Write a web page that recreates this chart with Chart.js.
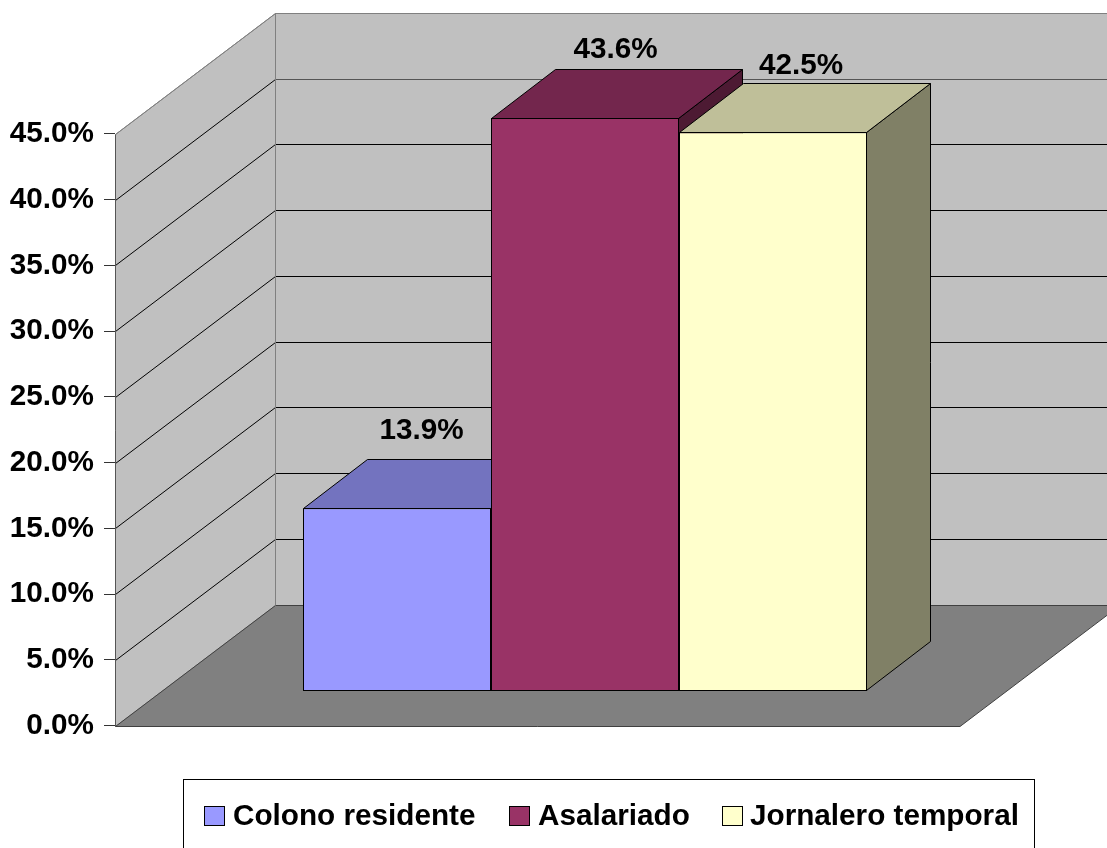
<!DOCTYPE html>
<html>
<head>
<meta charset="utf-8">
<style>html,body{margin:0;padding:0;background:#fff}canvas{display:block}</style>
<script src="https://cdn.jsdelivr.net/npm/chart.js@4"></script>
</head>
<body>
<canvas id="c" width="1107" height="848"></canvas>
<script>
const categories = [''];
const seriesNames = ['Colono residente', 'Asalariado', 'Jornalero temporal'];
const colonoValues = [13.9];
const asalariadoValues = [43.6];
const jornaleroValues = [42.5];
const tickValues = [0, 5, 10, 15, 20, 25, 30, 35, 40, 45];

const seriesFill = ['#9999FF', '#993366', '#FFFFCC'];
const seriesTop = ['#7373BF', '#73264D', '#BFBF99'];
const seriesSide = ['#4D4D80', '#4D1A33', '#808066'];

const FONT_SIZE = 29.7;
const FONT = 'bold ' + FONT_SIZE + 'px "Liberation Sans", Arial, sans-serif';
const WALL = { dx: 160, dy: -121 };
const BAR = { dx: 64, dy: -49 };
const labelOffset = [{ x: 24.5, y: 69 }, { x: 30.5, y: 60 }, { x: 28, y: 58 }];
const FLOOR_RIGHT = 960;
const AXIS_MAX = 54.2;
const BAR_SHIFT = 2.62;

function poly(ctx, pts, fill, stroke) {
  ctx.beginPath();
  pts.forEach((p, i) => i ? ctx.lineTo(p[0], p[1]) : ctx.moveTo(p[0], p[1]));
  ctx.closePath();
  if (fill) { ctx.fillStyle = fill; ctx.fill(); }
  if (stroke) { ctx.strokeStyle = stroke; ctx.lineWidth = 1; ctx.stroke(); }
}
function line(ctx, x1, y1, x2, y2, color) {
  ctx.beginPath(); ctx.moveTo(x1, y1); ctx.lineTo(x2, y2);
  ctx.strokeStyle = color; ctx.lineWidth = 1; ctx.stroke();
}

const scene3d = {
  id: 'scene3d',
  beforeDatasetsDraw(chart) {
    const { ctx, scales: { y } } = chart;
    const L = 115.5, y0 = Math.round(y.getPixelForValue(0)) + 0.5, yT = Math.round(y.getPixelForValue(45)) + 0.5;
    const bL = L + WALL.dx, by0 = y0 + WALL.dy, byT = yT + WALL.dy;
    const bR = FLOOR_RIGHT + WALL.dx;
    ctx.save();
    // back wall
    poly(ctx, [[bL, byT], [bR, byT], [bR, by0], [bL, by0]], '#C0C0C0', '#808080');
    // side wall
    poly(ctx, [[L, yT], [bL, byT], [bL, by0], [L, y0]], '#C0C0C0', '#808080');
    // floor
    poly(ctx, [[L, y0], [FLOOR_RIGHT, y0], [bR, by0], [bL, by0]], '#808080', '#404040');
    // grid lines
    tickValues.forEach(v => {
      if (v === 0) return;
      const py = Math.round(y.getPixelForValue(v)) + 0.5;
      if (v < 45) line(ctx, L, py, bL, py + WALL.dy, '#000');
      line(ctx, bL, py + WALL.dy, bR, py + WALL.dy, v === 45 ? '#808080' : (v === 40 ? '#555' : '#000'));
    });
    line(ctx, bL, byT, bL, by0, '#808080');
    line(ctx, L, yT, L, y0, '#555');
    line(ctx, L, yT, bL, byT, '#808080');
    // bar tops and sides
    chart.data.datasets.forEach((d, i) => {
      const b = chart.getDatasetMeta(i).data[0];
      const x1 = Math.round(b.x - b.width / 2) + 0.5, x2 = Math.round(b.x + b.width / 2) - 0.5;
      const t = Math.round(b.y) + 0.5, f = Math.round(b.base) - 0.5;
      poly(ctx, [[x2, t], [x2 + BAR.dx, t + BAR.dy], [x2 + BAR.dx, f + BAR.dy], [x2, f]], seriesSide[i], '#000');
      poly(ctx, [[x1, t], [x2, t], [x2 + BAR.dx, t + BAR.dy], [x1 + BAR.dx, t + BAR.dy]], seriesTop[i], '#000');
    });
    ctx.restore();
  },
  afterDatasetsDraw(chart) {
    const { ctx } = chart;
    ctx.save();
    ctx.font = FONT;
    ctx.fillStyle = '#000';
    ctx.textBaseline = 'alphabetic';
    // value labels
    ctx.textAlign = 'center';
    chart.data.datasets.forEach((d, i) => {
      const b = chart.getDatasetMeta(i).data[0];
      ctx.fillText(d.data[0].toFixed(1) + '%', b.x + labelOffset[i].x, b.y - labelOffset[i].y);
    });
    // legend
    const box = { l: 183.5, t: 779.5, r: 1034.5, b: 860 };
    ctx.fillStyle = '#fff';
    ctx.fillRect(box.l, box.t, box.r - box.l, box.b - box.t);
    ctx.strokeStyle = '#000';
    ctx.lineWidth = 1;
    ctx.strokeRect(box.l, box.t, box.r - box.l, box.b - box.t);
    const swatchX = [204.5, 509.5, 722.5], textX = [233, 538, 750];
    ctx.textAlign = 'left';
    chart.data.datasets.forEach((d, i) => {
      ctx.fillStyle = d.backgroundColor;
      ctx.fillRect(swatchX[i], 806.5, 20, 19);
      ctx.strokeStyle = '#000';
      ctx.strokeRect(swatchX[i], 806.5, 20, 19);
      ctx.fillStyle = '#000';
      ctx.fillText(d.label, textX[i], 825);
    });
    ctx.restore();
  }
};

const values = [colonoValues, asalariadoValues, jornaleroValues];
new Chart(document.getElementById('c'), {
  type: 'bar',
  data: {
    labels: categories,
    datasets: seriesNames.map((name, i) => ({
      label: name,
      data: values[i],
      yAxisID: 'bars',
      backgroundColor: seriesFill[i],
      borderColor: '#000',
      borderWidth: 1,
      borderSkipped: false,
      categoryPercentage: 0.6,
      barPercentage: 1
    }))
  },
  options: {
    responsive: false,
    animation: false,
    layout: { padding: { left: 0, right: 52, top: 13, bottom: 122.5 } },
    plugins: { legend: { display: false }, tooltip: { enabled: false }, title: { display: false } },
    scales: {
      x: { display: false },
      y: {
        position: 'left',
        min: 0,
        max: AXIS_MAX,
        afterBuildTicks(s) { s.ticks = tickValues.map(v => ({ value: v })); },
        afterFit(s) { s.width = 115; s.paddingTop = 0; s.paddingBottom = 0; },
        border: { display: false },
        grid: { drawOnChartArea: false, drawTicks: true, tickLength: 11, color: '#333' },
        ticks: {
          autoSkip: false,
          padding: 10,
          color: '#000',
          font: { family: '"Liberation Sans", Arial, sans-serif', size: FONT_SIZE, weight: 'bold' },
          callback: v => v.toFixed(1) + '%'
        }
      },
      bars: { display: false, position: 'left', min: -BAR_SHIFT, max: AXIS_MAX - BAR_SHIFT }
    }
  },
  plugins: [scene3d]
});
</script>
</body>
</html>
